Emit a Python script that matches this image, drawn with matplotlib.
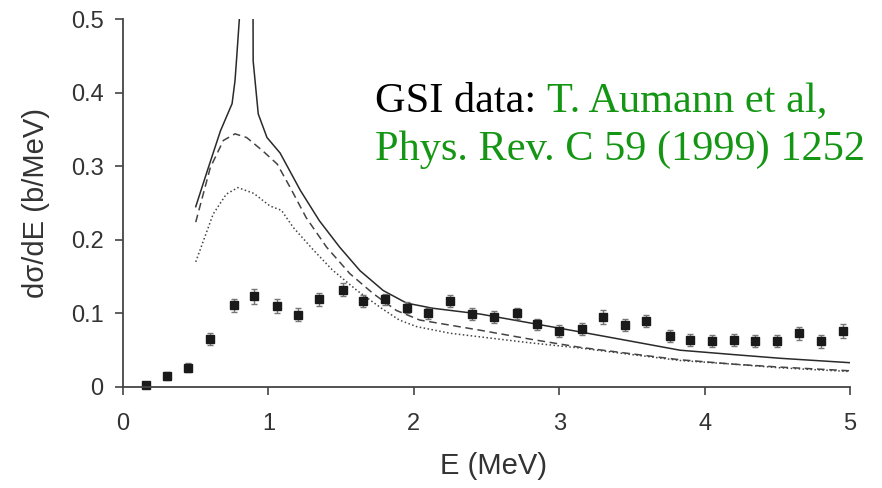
import numpy as np
import matplotlib.pyplot as plt

# GSI data points (E in MeV, dsigma/dE in b/MeV)
e_data = [0.16, 0.30, 0.45, 0.60, 0.76, 0.90, 1.06, 1.20, 1.35, 1.51, 1.65, 1.80,
          1.95, 2.10, 2.25, 2.40, 2.55, 2.71, 2.85, 3.00, 3.16, 3.30, 3.45, 3.60,
          3.76, 3.90, 4.05, 4.20, 4.35, 4.50, 4.65, 4.80, 4.95]
s_data = [0.003, 0.015, 0.026, 0.065, 0.111, 0.123, 0.110, 0.098, 0.119, 0.132, 0.117, 0.119,
          0.108, 0.100, 0.117, 0.099, 0.095, 0.100, 0.085, 0.076, 0.079, 0.095, 0.084, 0.090,
          0.069, 0.064, 0.063, 0.064, 0.063, 0.062, 0.073, 0.062, 0.076]
s_err = [0.004, 0.005, 0.006, 0.008, 0.009, 0.010, 0.009, 0.009, 0.009, 0.009, 0.008, 0.008,
         0.008, 0.008, 0.008, 0.008, 0.008, 0.008, 0.008, 0.008, 0.008, 0.009, 0.008, 0.008,
         0.008, 0.008, 0.008, 0.008, 0.008, 0.008, 0.009, 0.009, 0.009]

# calculations (solid curve has a resonance between ~0.81 and ~0.89 MeV)
e_solid = [0.50, 0.58, 0.67, 0.75, 0.77, 0.78, 0.80, 0.805, np.nan,
           0.893, 0.895, 0.93, 0.99, 1.08, 1.22, 1.35, 1.49, 1.63, 1.79,
           1.95, 2.13, 2.46, 2.80, 3.14, 3.50, 3.83, 4.20, 4.52, 5.00]
s_solid = [0.245, 0.294, 0.348, 0.385, 0.416, 0.443, 0.50, 0.60, np.nan,
           0.60, 0.443, 0.371, 0.339, 0.318, 0.267, 0.226, 0.190, 0.158, 0.131,
           0.114, 0.107, 0.099, 0.087, 0.075, 0.062, 0.050, 0.044, 0.039, 0.033]

e_dash = [0.50, 0.60, 0.69, 0.77, 0.85, 0.96, 1.06, 1.15, 1.26, 1.40, 1.56, 1.72,
          1.88, 2.04, 2.46, 2.80, 3.14, 3.50, 3.83, 4.20, 4.52, 5.00]
s_dash = [0.224, 0.298, 0.335, 0.344, 0.339, 0.321, 0.303, 0.271, 0.230, 0.190, 0.154, 0.127,
          0.104, 0.091, 0.077, 0.065, 0.054, 0.045, 0.037, 0.031, 0.027, 0.022]

e_dot = [0.50, 0.62, 0.71, 0.79, 0.90, 1.01, 1.09, 1.17, 1.31, 1.44, 1.61, 1.77,
         1.90, 2.02, 2.25, 2.46, 2.80, 3.14, 3.50, 3.83, 4.20, 4.52, 5.00]
s_dot = [0.170, 0.235, 0.262, 0.271, 0.263, 0.246, 0.240, 0.217, 0.186, 0.159, 0.131, 0.108,
         0.091, 0.082, 0.073, 0.068, 0.060, 0.053, 0.044, 0.036, 0.031, 0.026, 0.021]

x_ticks = [0, 1, 2, 3, 4, 5]
y_ticks = [0, 0.1, 0.2, 0.3, 0.4, 0.5]
y_ticklabels = ['0', '0.1', '0.2', '0.3', '0.4', '0.5']

plt.rcParams['font.family'] = ['Liberation Sans', 'DejaVu Sans']

fig = plt.figure(figsize=(8.82, 4.88), dpi=100)
ax = fig.add_axes([0.1395, 0.207, 0.8242, 0.754])

ax.plot(e_solid, s_solid, '-', color='#2a2a2a', lw=1.1)
ax.plot(e_dash, s_dash, '--', color='#444444', lw=1.1, dashes=(5, 3))
ax.plot(e_dot, s_dot, color='#444444', lw=1.1, dashes=(1, 1.6))
ax.errorbar(e_data, s_data, yerr=s_err, fmt='s', color='#1a1a1a', ms=5.5,
            ecolor='#777777', elinewidth=1.0, capsize=2.5, capthick=1.0, clip_on=False)

ax.set_xlim(0, 5)
ax.set_ylim(0, 0.5)
ax.set_xticks(x_ticks)
ax.set_yticks(y_ticks)
ax.set_yticklabels(y_ticklabels)
for s in ['top', 'right']:
    ax.spines[s].set_visible(False)
for s in ['left', 'bottom']:
    ax.spines[s].set_color('#444444')
    ax.spines[s].set_linewidth(1.3)
ax.tick_params(direction='out', length=6, width=1.2, colors='#444444',
               labelcolor='#333333', labelsize=17)
ax.tick_params(axis='y', pad=8)
ax.tick_params(axis='x', pad=13)
ax.set_xlabel('E (MeV)', fontsize=21, color='#333333')
ax.set_ylabel('d\u03c3/dE (b/MeV)', fontsize=21, color='#333333')
ax.xaxis.set_label_coords(0.51, -0.177)
ax.yaxis.set_label_coords(-0.100, 0.5)

# reference text
serif = ['Liberation Serif', 'DejaVu Serif']
t1 = ax.text(0.347, 0.747, 'GSI data: ', transform=ax.transAxes, fontsize=30.5,
             family=serif, color='black', va='baseline')
fig.canvas.draw()
bb = t1.get_window_extent().transformed(ax.transAxes.inverted())
ax.text(bb.x1, 0.747, 'T. Aumann et al,', transform=ax.transAxes, fontsize=30.5,
        family=serif, color='#149614', va='baseline')
ax.text(0.347, 0.617, 'Phys. Rev. C 59 (1999) 1252', transform=ax.transAxes, fontsize=30.5,
        family=serif, color='#149614', va='baseline')

fig.savefig('out.png', dpi=100)
